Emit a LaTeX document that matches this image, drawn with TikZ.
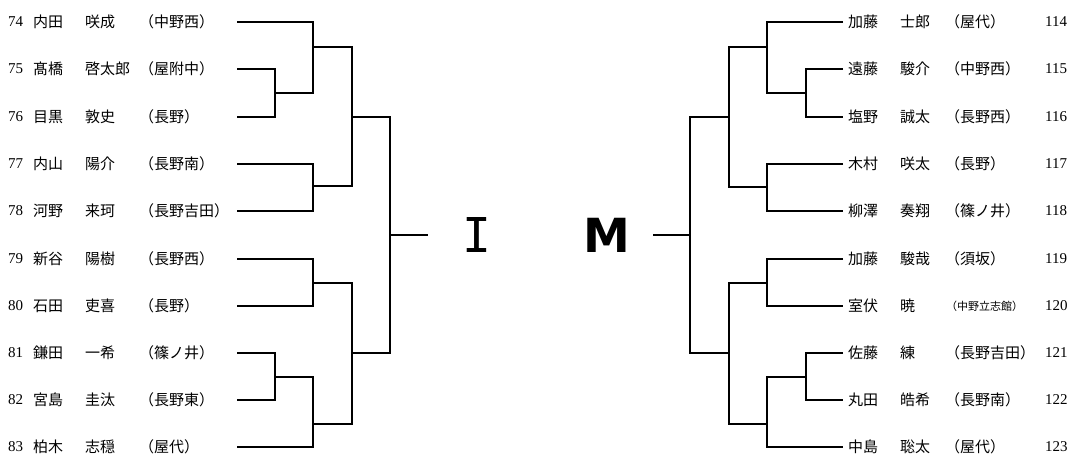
\documentclass[tikz,border=0pt]{standalone}
\usepackage{fontspec}
\setmainfont{Liberation Serif}
\newfontfamily\jp{Noto Sans CJK JP}
\newfontfamily\monofnt{DejaVu Sans Mono}
\newfontfamily\sansfnt{DejaVu Sans}
\begin{document}
\begin{tikzpicture}[x=1pt,y=-1pt,
  br/.style={line width=1.8pt},
  txt/.style={anchor=west,inner sep=0pt,font=\fontsize{15}{15}\selectfont\jp},
  num/.style={anchor=west,inner sep=0pt,font=\fontsize{15}{15}\selectfont},
  small/.style={anchor=west,inner sep=0pt,font=\fontsize{11}{11}\selectfont\jp},
  big/.style={inner sep=0pt}]
\useasboundingbox (0,0) rectangle (1072,457);
% left players
\foreach \n/\y/\a/\b/\c in {74/22/内田/咲成/（中野西）,75/69/髙橋/啓太郎/（屋附中）,76/117/目黒/敦史/（長野）,77/164/内山/陽介/（長野南）,78/211/河野/来珂/（長野吉田）,79/259/新谷/陽樹/（長野西）,80/306/石田/吏喜/（長野）,81/353/鎌田/一希/（篠ノ井）,82/400/宮島/圭汰/（長野東）,83/447/柏木/志穏/（屋代）}{
  \node[num] (n\n) at (8,\y) {\n};
  \node[txt] (s\n) at (33,\y) {\a};
  \node[txt] (g\n) at (85,\y) {\b};
  \node[txt] (c\n) at (139,\y) {\c};
  \coordinate (P\n) at (237,\y);
}
% right players
\foreach \n/\y/\a/\b/\c in {114/22/加藤/士郎/（屋代）,115/69/遠藤/駿介/（中野西）,116/117/塩野/誠太/（長野西）,117/164/木村/咲太/（長野）,118/211/柳澤/奏翔/（篠ノ井）,119/259/加藤/駿哉/（須坂）,121/353/佐藤/練/（長野吉田）,122/400/丸田/皓希/（長野南）,123/447/中島/聡太/（屋代）}{
  \node[num] (n\n) at (1045,\y) {\n};
  \node[txt] (s\n) at (848,\y) {\a};
  \node[txt] (g\n) at (900,\y) {\b};
  \node[txt] (c\n) at (945,\y) {\c};
  \coordinate (Q\n) at (843,\y);
}
\node[num] (n120) at (1045,306) {120};
\node[txt] (s120) at (848,306) {室伏};
\node[txt] (g120) at (900,306) {暁};
\node[small] (c120) at (946,306) {（中野立志館）};
\coordinate (Q120) at (843,306);
% centre letters
\node[big,font=\fontsize{48}{48}\selectfont\monofnt] (I) at (477,235) {I};
\node[big,font=\fontsize{47}{47}\selectfont\sansfnt\bfseries] (M) at (607,235) {M};
% left junctions
\coordinate (a1) at (275,93);
\coordinate (b1) at (313,47);
\coordinate (b2) at (313,186);
\coordinate (c1) at (352,117);
\coordinate (b3) at (313,283);
\coordinate (a2) at (275,377);
\coordinate (b4) at (313,424);
\coordinate (c2) at (352,353);
\coordinate (d) at (390,235);
\coordinate (dI) at (428,235);
\draw[br] (P75) -| (a1) |- (P76);
\draw[br] (P74) -| (b1) |- (a1);
\draw[br] (P77) -| (b2) |- (P78);
\draw[br] (b1) -| (c1) |- (b2);
\draw[br] (P79) -| (b3) |- (P80);
\draw[br] (P81) -| (a2) |- (P82);
\draw[br] (a2) -| (b4) |- (P83);
\draw[br] (b3) -| (c2) |- (b4);
\draw[br] (c1) -| (d) |- (c2);
\draw[br] (d) -- (dI);
% right junctions
\coordinate (e1) at (806,93);
\coordinate (f1) at (767,47);
\coordinate (f2) at (767,187);
\coordinate (g1) at (729,117);
\coordinate (f3) at (767,283);
\coordinate (e2) at (806,377);
\coordinate (f4) at (767,424);
\coordinate (g2) at (729,353);
\coordinate (h) at (690,235);
\coordinate (hM) at (653,235);
\draw[br] (Q115) -| (e1) |- (Q116);
\draw[br] (Q114) -| (f1) |- (e1);
\draw[br] (Q117) -| (f2) |- (Q118);
\draw[br] (f1) -| (g1) |- (f2);
\draw[br] (Q119) -| (f3) |- (Q120);
\draw[br] (Q121) -| (e2) |- (Q122);
\draw[br] (e2) -| (f4) |- (Q123);
\draw[br] (f3) -| (g2) |- (f4);
\draw[br] (g1) -| (h) |- (g2);
\draw[br] (h) -- (hM);
\end{tikzpicture}
\end{document}
